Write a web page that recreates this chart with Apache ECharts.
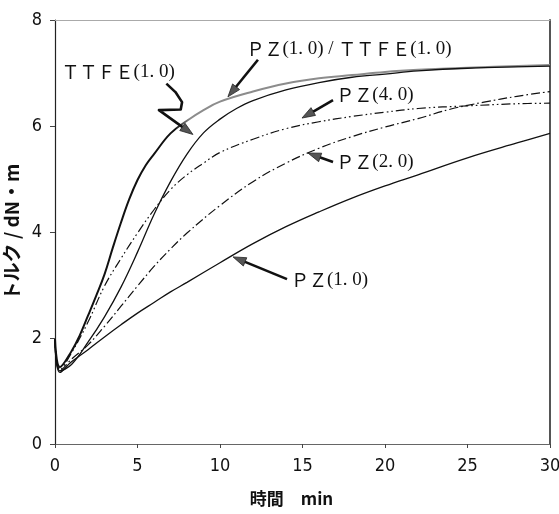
<!DOCTYPE html>
<html><head><meta charset="utf-8">
<script src="https://cdn.jsdelivr.net/npm/echarts@6/dist/echarts.min.js"></script>
<style>html,body{margin:0;padding:0;background:#fff}#c{width:559px;height:514px}</style>
</head><body><div id="c"></div>
<script>
// ---- data (time in min, torque in dN·m) ----
const pzTtfeX = [0, 0.3, 1, 1.5, 2, 2.5, 3, 3.5, 4, 4.5, 5, 5.5, 6, 7, 8, 9, 10, 12, 14, 16, 18, 20, 22, 25, 30];
const pzTtfeY = [1.98, 1.45, 1.75, 2.05, 2.42, 2.8, 3.2, 3.7, 4.18, 4.62, 4.98, 5.26, 5.47, 5.86, 6.1, 6.3, 6.46, 6.65, 6.8, 6.9, 6.96, 7.02, 7.06, 7.1, 7.15];
const ttfeX = [0, 0.3, 1, 2, 3, 4, 5, 6, 7, 8, 9, 10, 11, 12, 14, 16, 18, 20, 22, 25, 30];
const ttfeY = [1.98, 1.38, 1.5, 1.92, 2.4, 2.96, 3.62, 4.33, 4.95, 5.47, 5.87, 6.13, 6.33, 6.48, 6.68, 6.82, 6.92, 6.98, 7.04, 7.09, 7.13];
const pz4X = [0, 0.3, 1, 2, 3, 4, 5, 6, 7, 8, 9, 10, 12, 14, 16, 18, 20, 22, 25, 28, 30];
const pz4Y = [1.98, 1.4, 1.72, 2.3, 2.98, 3.5, 3.98, 4.42, 4.8, 5.08, 5.3, 5.5, 5.75, 5.95, 6.08, 6.18, 6.26, 6.33, 6.38, 6.42, 6.43];
const pz2X = [0, 0.3, 1, 2, 3, 4, 5, 6, 7, 8, 10, 12, 14, 16, 18, 20, 22, 24, 26, 28, 30];
const pz2Y = [1.98, 1.38, 1.6, 1.87, 2.22, 2.6, 2.98, 3.35, 3.68, 3.98, 4.5, 4.95, 5.3, 5.58, 5.8, 5.98, 6.14, 6.32, 6.45, 6.56, 6.65];
const pz1X = [0, 0.3, 1, 2, 3, 4, 5, 6, 7, 8, 10, 12, 14, 16, 18, 20, 22, 25, 28, 30];
const pz1Y = [1.98, 1.35, 1.55, 1.78, 2.02, 2.25, 2.47, 2.67, 2.87, 3.05, 3.42, 3.78, 4.1, 4.38, 4.64, 4.87, 5.08, 5.4, 5.68, 5.86];

const xMin = 0, xMax = 30, xStep = 5;
const yMin = 0, yMax = 8, yStep = 2;

const labelPZTTFE = ['ＰＺ', '(1. 0) / ', 'ＴＴＦＥ', '(1. 0)'];
const labelTTFE = ['ＴＴＦＥ', '(1. 0)'];
const labelPZ4 = ['ＰＺ', '(4. 0)'];
const labelPZ2 = ['ＰＺ', '(2. 0)'];
const labelPZ1 = ['ＰＺ', '(1. 0)'];

function pairs(xs, ys) { return xs.map((x, i) => [x, ys[i]]); }

const narrow = "'Liberation Sans Narrow','DejaVu Sans Condensed','Liberation Sans',sans-serif";
const cjk = "'Noto Sans CJK JP','Noto Sans',sans-serif";
const serif = "'Liberation Serif','DejaVu Serif',serif";

const chart = echarts.init(document.getElementById('c'), null, { renderer: 'canvas' });

const baseLine = { symbol: 'none', type: 'line', smooth: 0.4, silent: true, animation: false };

chart.setOption({
  backgroundColor: '#fff',
  animation: false,
  grid: { left: 55, right: 9, top: 20, bottom: 70, containLabel: false, outerBoundsMode: 'none' },
  xAxis: [{
    type: 'value', min: xMin, max: xMax, interval: xStep,
    name: '時間　min', nameLocation: 'middle', nameGap: 46,
    nameTextStyle: { fontFamily: cjk, fontSize: 17, fontWeight: 'bold', color: '#111', padding: [0, 22, 0, 0] },
    axisLine: { show: true, lineStyle: { color: '#666', width: 1.2 } },
    axisTick: { show: true, length: 4, lineStyle: { color: '#444' } },
    axisLabel: { margin: 13, fontFamily: narrow, fontSize: 18, color: '#111' },
    splitLine: { show: false }
  }, {
    type: 'value', min: xMin, max: xMax, position: 'top',
    axisLine: { show: true, onZero: false, lineStyle: { color: '#aaa', width: 1 } },
    axisTick: { show: false }, axisLabel: { show: false }, splitLine: { show: false }
  }],
  yAxis: [{
    type: 'value', min: yMin, max: yMax, interval: yStep,
    name: 'トルク / dN・m', nameLocation: 'middle', nameGap: 25, nameRotate: 90,
    nameTextStyle: { fontFamily: cjk, fontSize: 19, fontWeight: 'bold', color: '#111' },
    axisLine: { show: true, lineStyle: { color: '#222', width: 1.2 } },
    axisTick: { show: true, length: 5, lineStyle: { color: '#444' } },
    axisLabel: { margin: 13, fontFamily: narrow, fontSize: 18, color: '#111' },
    splitLine: { show: false }
  }, {
    type: 'value', min: yMin, max: yMax, position: 'right',
    axisLine: { show: true, onZero: false, lineStyle: { color: '#555', width: 2 } },
    axisTick: { show: false }, axisLabel: { show: false }, splitLine: { show: false }
  }],
  series: [
    Object.assign({}, baseLine, {
      name: 'PZ(1.0)/TTFE(1.0)', data: pairs(pzTtfeX, pzTtfeY), z: 2,
      lineStyle: {
        width: 2,
        color: { type: 'linear', x: 0, y: 0, x2: 1, y2: 0, colorStops: [
          { offset: 0, color: '#111' }, { offset: 0.245, color: '#111' },
          { offset: 0.275, color: '#8c8c8c' }, { offset: 1, color: '#8c8c8c' }] }
      }
    }),
    Object.assign({}, baseLine, { name: 'TTFE(1.0)', data: pairs(ttfeX, ttfeY), z: 3,
      lineStyle: { width: 1.3, color: '#111' } }),
    Object.assign({}, baseLine, { name: 'PZ(4.0)', data: pairs(pz4X, pz4Y), z: 3,
      lineStyle: { width: 1.2, color: '#111', type: [9, 3, 1.6, 3, 1.6, 3] } }),
    Object.assign({}, baseLine, { name: 'PZ(2.0)', data: pairs(pz2X, pz2Y), z: 3,
      lineStyle: { width: 1.2, color: '#111', type: [9, 3, 1.6, 3] } }),
    Object.assign({}, baseLine, { name: 'PZ(1.0)', data: pairs(pz1X, pz1Y), z: 3,
      lineStyle: { width: 1.3, color: '#111' } })
  ]
});

// ---- annotations (anchored in data coordinates) ----
function P(pt) { return chart.convertToPixel({ xAxisIndex: 0, yAxisIndex: 0 }, pt); }

const richStyle = {
  s: { fontFamily: cjk, fontSize: 18, fill: '#111' },
  n: { fontFamily: serif, fontSize: 19, fill: '#111' }
};
function richText(parts) {
  return parts.map((p, i) => '{' + (i % 2 === 0 ? 's' : 'n') + '|' + p + '}').join('');
}
function textEl(parts, at) {
  const p = P(at);
  return { type: 'text', z: 20, style: { x: p[0], y: p[1], text: richText(parts), rich: richStyle, verticalAlign: 'middle', align: 'left' } };
}
function arrowEls(ptsData) {
  const pts = ptsData.map(P);
  const tip = pts[pts.length - 1], prev = pts[pts.length - 2];
  const dx = tip[0] - prev[0], dy = tip[1] - prev[1];
  const L = Math.hypot(dx, dy), ux = dx / L, uy = dy / L;
  const hl = 13, hw = 4.5;
  const base = [tip[0] - ux * hl, tip[1] - uy * hl];
  const shaft = pts.slice(0, -1).concat([[tip[0] - ux * (hl - 2), tip[1] - uy * (hl - 2)]]);
  return [
    { type: 'polyline', z: 20, shape: { points: shaft }, style: { stroke: '#111', lineWidth: 2.6, fill: null, lineJoin: 'round' } },
    { type: 'polygon', z: 21, shape: { points: [tip, [base[0] - uy * hw, base[1] + ux * hw], [base[0] + uy * hw, base[1] - ux * hw]] },
      style: { fill: '#555', stroke: '#222', lineWidth: 0.8 } }
  ];
}

const elements = [].concat(
  textEl(labelTTFE, [0.4, 7.02]),
  arrowEls([[6.75, 6.8], [7.3, 6.64], [7.7, 6.45], [7.62, 6.31], [6.3, 6.3], [8.36, 5.84]]),
  textEl(labelPZTTFE, [11.6, 7.45]),
  arrowEls([[12.3, 7.25], [10.48, 6.55]]),
  textEl(labelPZ4, [17.05, 6.58]),
  arrowEls([[16.85, 6.49], [14.97, 6.15]]),
  textEl(labelPZ2, [17.05, 5.32]),
  arrowEls([[16.85, 5.32], [15.33, 5.49]]),
  textEl(labelPZ1, [14.3, 3.09]),
  arrowEls([[14.06, 3.11], [10.79, 3.53]])
);
chart.setOption({ graphic: { elements: elements } });
</script>
</body></html>
